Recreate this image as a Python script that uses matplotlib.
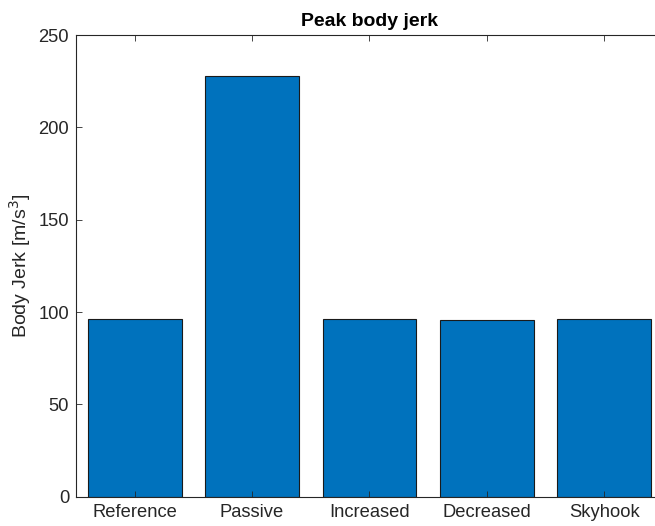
import matplotlib.pyplot as plt
import numpy as np

plt.rcParams['font.family'] = ['Liberation Sans', 'DejaVu Sans']

# ================= DATA =================
controllers = ["Reference", "Passive", "Increased", "Decreased", "Skyhook"]
peak_jerk = [96.2, 228.0, 96.1, 95.5, 96.1]  # m/s^3

# ================= PLOT =================
fig = plt.figure(figsize=(6.55, 5.26), dpi=100)
# axes run slightly past the right edge of the canvas
ax = fig.add_axes([76 / 655, 29.3 / 526, 587 / 655, 461.7 / 526])

x = np.arange(1, len(controllers) + 1)
ax.bar(x, peak_jerk, width=0.8, color="#0072BD", edgecolor="#1a1a1a", linewidth=0.8)

ax.set_xlim(0.5, len(controllers) + 0.5)
ax.set_ylim(0, 250)
ax.set_xticks(x)
ax.set_xticklabels(controllers)
ax.set_yticks([0, 50, 100, 150, 200, 250])

ax.tick_params(direction="in", top=True, right=True, length=4, width=0.6,
               colors="#262626", labelsize=13.2, pad=5)
for s in ax.spines.values():
    s.set_color("#262626")
    s.set_linewidth(0.8)

ax.set_ylabel("Body Jerk [m/s$^3$]", fontsize=14, color="#262626", labelpad=4)
ax.set_title("Peak body jerk", fontsize=14, fontweight="bold", pad=6.5)

fig.savefig("out.png", dpi=100)
